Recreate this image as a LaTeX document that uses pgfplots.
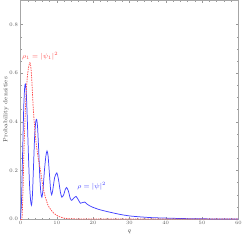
\documentclass[border=0pt]{standalone}
\usepackage{pgfplots}
\pgfplotsset{compat=1.18}
\definecolor{bl}{rgb}{0.25,0.25,1}
\definecolor{rd}{rgb}{1,0.3,0.3}
\begin{document}
\begin{tikzpicture}
\begin{axis}[
  scale only axis,
  width=220bp, height=221bp,
  xmin=0, xmax=60, ymin=0, ymax=0.9,
  xtick={0,10,...,60},
  ytick={0,0.2,0.4,0.6,0.8},
  yticklabels={0.0,0.2,0.4,0.6,0.8},
  minor x tick num=4,
  minor y tick num=3,
  tick align=inside,
  major tick length=2.5bp,
  minor tick length=1.5bp,
  axis line style={draw=black!35},
  every tick/.style={draw=black!40, line width=0.3pt},
  tick label style={font=\fontsize{5.5}{6}\selectfont, text=black!65},
  xticklabel style={yshift=1bp},
  yticklabel style={xshift=1bp},
  xlabel={$q$}, ylabel={Probability densities},
  label style={font=\fontsize{6}{7}\selectfont, text=black!75},
  xlabel style={yshift=2bp},
  ylabel style={yshift=-6bp},
  clip=true,
]
\addplot[bl, line width=0.75pt, smooth, tension=0.4] coordinates {
(0,0) (0.3,0.08) (0.6,0.28) (0.9,0.46) (1.15,0.54) (1.35,0.555) (1.6,0.52)
(1.9,0.40) (2.2,0.26) (2.5,0.14) (2.8,0.075) (3.05,0.057) (3.3,0.10)
(3.6,0.22) (3.9,0.34) (4.2,0.40) (4.45,0.41) (4.7,0.38) (5.0,0.29)
(5.3,0.18) (5.6,0.11) (5.9,0.09) (6.2,0.12) (6.6,0.20) (7.0,0.26)
(7.3,0.28) (7.6,0.26) (8.0,0.18) (8.3,0.12) (8.6,0.10) (8.9,0.12)
(9.4,0.17) (10.0,0.19) (10.5,0.16) (11.0,0.11) (11.4,0.09) (11.9,0.10)
(12.3,0.12) (12.7,0.13) (13.2,0.115) (13.7,0.085) (14.1,0.077) (14.6,0.085)
(15.3,0.093) (15.9,0.08) (16.5,0.065) (17.1,0.068) (17.7,0.07) (18.3,0.062)
(19,0.055) (20,0.048) (21.5,0.040) (23,0.034) (25,0.027) (27.5,0.019)
(30,0.013) (33,0.009) (36,0.006) (40,0.004) (45,0.002) (50,0.001)
(55,0.0005) (60,0.0003)
};
\addplot[rd, line width=0.75pt, dash pattern=on 1.5pt off 1pt, smooth, tension=0.5] coordinates {
(0,0) (0.4,0.0) (0.7,0.12) (1.0,0.30) (1.5,0.50) (2.0,0.60) (2.6,0.643)
(3.0,0.60) (3.5,0.46) (4.0,0.36) (4.5,0.29) (5.0,0.24) (5.5,0.20)
(6.0,0.15) (6.5,0.11) (7.5,0.06) (8.3,0.04) (9.2,0.024) (10,0.015)
(11,0.008) (12,0.004) (13,0.002) (15,0.0008) (20,0.0003) (30,0.0002) (60,0.0001)
};
\node[rd, font=\fontsize{7}{8}\selectfont] at (axis cs:5.4,0.668) {$\rho_1=|\psi_1|^2$};
\node[bl, font=\fontsize{7}{8}\selectfont] at (axis cs:19.6,0.134) {$\rho=|\psi|^2$};
\end{axis}
\end{tikzpicture}
\end{document}
